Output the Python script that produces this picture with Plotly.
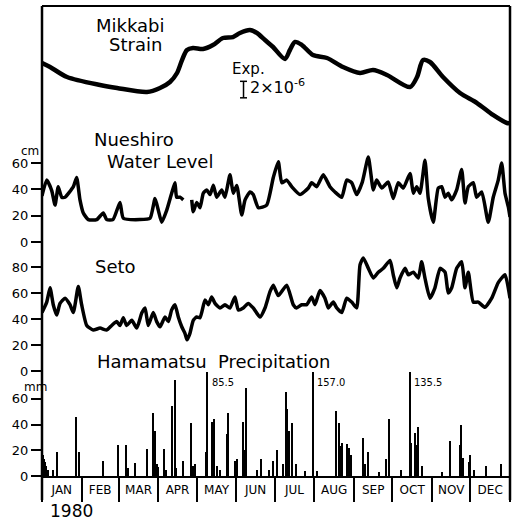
import plotly.graph_objects as go

# ---------------- data ----------------
months = ["JAN", "FEB", "MAR", "APR", "MAY", "JUN", "JUL", "AUG", "SEP", "OCT", "NOV", "DEC"]
month_lengths = [31, 29, 31, 30, 31, 30, 31, 31, 30, 31, 30, 31]  # 1980 (leap year)

# Mikkabi strain (relative, units of 1e-6), day of year
strain_day = [0, 6.3, 19.6, 45.4, 58.7, 82.1, 92.3, 100.1, 105.6, 109.5, 113.4, 118.1, 125.9,
              133.7, 141.5, 149.3, 154.8, 162.6, 168.1, 174.4, 180.7, 190.0, 193.9, 197.9,
              203.3, 211.9, 222.9, 235.4, 248.7, 258.9, 269.8, 287.8, 293.3, 298.0, 303.4,
              313.6, 326.9, 340.2, 352.7, 363.6, 366]
strain_val = [8.12, 7.64, 6.42, 5.45, 5.09, 4.61, 5.09, 5.82, 6.91, 8.48, 9.70, 9.94, 9.82,
              10.30, 11.15, 11.27, 11.76, 12.12, 11.76, 10.91, 10.06, 8.61, 9.70, 10.67,
              10.30, 9.09, 8.73, 7.64, 6.91, 7.27, 6.67, 5.21, 6.42, 8.48, 8.24,
              6.42, 4.48, 3.27, 1.82, 0.85, 0.85]

# Nueshiro water level (cm); None = gap in record
water_day = [0, 3.7, 7.6, 10.2, 12.7, 15.4, 18.0, 24.5, 27.1, 29.7, 32.3, 36.2, 42.8, 47.9,
             50.6, 55.5, 61.0, 63.6, 76.6, 84.5, 88.4, 91.0, 93.6, 97.5, 101.4, 104.0, 105.3,
             107.9, 110.5, 113.5, 117.1, 118.3, 121.0, 123.6, 126.1, 128.8, 131.4, 134.0,
             136.6, 140.5, 143.1, 147.0, 149.6, 152.3, 156.2, 158.8, 162.7, 165.2, 169.2,
             175.7, 180.9, 184.8, 187.5, 191.4, 195.3, 201.8, 208.3, 210.9, 214.8, 220.0,
             225.2, 229.1, 234.4, 238.3, 242.2, 246.1, 250.5, 255.2, 259.1, 261.7, 265.7,
             270.8, 274.7, 278.6, 282.6, 287.8, 290.4, 293.0, 295.6, 299.5, 302.1, 306.0,
             309.9, 312.6, 315.2, 317.7, 320.4, 324.3, 328.2, 330.8, 333.4, 337.3, 339.9,
             343.9, 349.0, 352.9, 356.8, 359.5, 362.1, 364.7, 366]
water_cm = [35, 47, 39, 28, 42, 34, 34, 42, 49, 32, 22, 17, 17, 22,
            17, 17, 30, 18, 17, 18, 33, 24, 15, 24, 37, 45, 34,
            34, 32, None, 32, 23, 30, 26, 37, 39.5, 36, 43,
            34, 39.5, 34, 51, 37, 43, 20.5, 32, 38, 36, 26,
            28, 49, 61, 45, 47, 42, 36, 41, 45, 42, 51,
            42, 38, 34, 47, 45, 36, 45.5, 64.5, 39.5, 47, 41,
            45.5, 33, 45, 41, 52, 37, 42, 37, 62, 33, 15,
            41, 42, 34, 37, 32, 39.5, 55, 29.6, 42, 45, 34,
            38, 15, 34, 47, 60, 37, 26.6, 19]

# Seto water level (cm)
seto_day = [0, 3.7, 6.3, 8.8, 11.5, 14.1, 18.0, 21.9, 24.5, 28.4, 31.0, 35.0, 40.1, 45.4,
            50.6, 54.5, 58.4, 61.0, 63.6, 66.2, 70.2, 74.1, 78.0, 80.6, 83.1, 87.0, 89.7,
            92.3, 96.2, 98.8, 101.4, 104.0, 106.6, 109.3, 111.8, 113.4, 115.7, 118.3, 121.0,
            123.6, 127.5, 130.1, 132.7, 135.3, 139.2, 143.1, 147.0, 150.9, 153.5, 157.4,
            161.3, 165.2, 170.5, 174.4, 178.3, 180.9, 184.8, 191.4, 196.5, 199.1, 203.1,
            207.0, 210.9, 213.5, 217.4, 221.3, 223.9, 227.8, 230.5, 234.4, 238.3, 242.2,
            246.1, 248.7, 251.3, 255.2, 259.1, 263.0, 266.9, 272.2, 274.7, 277.4, 280.0,
            283.9, 286.5, 290.4, 294.3, 296.9, 299.5, 303.4, 307.3, 311.3, 315.2, 317.7,
            320.4, 324.3, 328.2, 330.8, 333.4, 337.3, 341.2, 346.4, 351.7, 356.8, 362.1, 366]
seto_cm = [45, 53, 64, 51, 43, 52, 56, 51, 45, 65, 51, 35, 31.5, 33,
           31.5, 35, 38, 35, 41, 35, 39, 33, 44.6, 48.5, 35, 45, 38,
           34, 41.5, 38, 47, 51, 41.5, 34, 29, 24, 29, 39, 41.5,
           41, 54.6, 51, 57, 52, 48.5, 51, 48.5, 57, 47, 48.5,
           52, 48.5, 41.5, 48.5, 61, 66, 58, 66, 51, 48.5, 51,
           51, 57, 51, 62, 56, 48.5, 53, 48.5, 45, 56, 53,
           48.5, 81.5, 87, 79, 71.5, 76, 79, 85, 74, 64, 71.5,
           79, 74, 76, 71.5, 84, 71.5, 56, 64, 79, 76, 60,
           64, 79, 84, 64, 76, 53, 53, 49, 56, 68, 74, 56]

# Hamamatsu daily precipitation (mm)
rain_day = [0.5, 1.5, 2.5, 3.5, 4.5, 9, 11.5, 27, 29, 48, 59.5, 66, 67.5, 73, 82, 87, 88.5, 90,
            91, 95.5, 97, 102, 104, 105, 110.5, 117, 118, 120, 128, 129.5, 132.7, 134.5, 137,
            139.5, 144.5, 145.7, 151, 152.5, 157.5, 159, 160, 168, 171, 178, 181, 183.5,
            188.7, 190.6, 191.6, 193, 195.5, 199, 206, 211.7, 215, 230, 232.3, 233.5, 235,
            238.3, 240.5, 242, 250.8, 252.5, 254.7, 264, 269.5, 271.4, 281, 287.8, 289,
            291.7, 293, 294.3, 297, 313, 319, 326.9, 328, 329, 334, 334.8, 338, 347.7, 358.7]
rain_mm = [16, 13, 11, 8, 5, 5, 19, 46, 19, 12, 24, 24.5, 6, 10, 21, 49, 35, 9,
           7, 21, 5, 54.5, 75, 6, 11.5, 41, 8, 9, 19, 85.5, 42, 44.5, 7.5,
           5, 33, 49, 11.5, 13, 42, 20, 68.7, 5, 13, 5, 11.5, 20,
           9, 65, 52, 35, 41.5, 9, 4, 157.0, 4, 50.5, 41.5, 23, 26,
           25, 21.5, 16, 29.5, 9, 19, 3, 13, 44.6, 4.5, 135.5, 25.3,
           33.7, 24, 38, 7.5, 3, 27, 24, 39.4, 14, 11, 16.5, 5, 7.5, 9]
rain_clip_mm = 80          # bars taller than this are cut and labelled
scale_bar_ustrain = 2      # "2 x 10^-6" scale bar

# ---------------- layout helpers ----------------
W, H = 519, 521
ML, MR, MT, MB = 42, 9, 6, 45
PW, PH = W - ML - MR, H - MT - MB


def px(xp):
    return (xp - ML) / PW


def py(yp):
    return (H - MB - yp) / PH


FONT = "DejaVu Sans"
BLACK = "#000000"

month_starts = [0]
for n in month_lengths:
    month_starts.append(month_starts[-1] + n)
month_mids = [(month_starts[i] + month_starts[i + 1]) / 2 for i in range(12)]

fig = go.Figure()

fig.add_trace(go.Scatter(x=strain_day, y=strain_val, mode="lines", yaxis="y",
                         line=dict(color=BLACK, width=4.5, shape="spline", smoothing=0.8),
                         showlegend=False, hoverinfo="skip"))
fig.add_trace(go.Scatter(x=water_day, y=water_cm, mode="lines", yaxis="y2",
                         line=dict(color=BLACK, width=3.5, shape="spline", smoothing=0.5),
                         connectgaps=False, showlegend=False, hoverinfo="skip"))
fig.add_trace(go.Scatter(x=seto_day, y=seto_cm, mode="lines", yaxis="y3",
                         line=dict(color=BLACK, width=3.5, shape="spline", smoothing=0.5),
                         showlegend=False, hoverinfo="skip"))
fig.add_trace(go.Bar(x=rain_day, y=rain_mm, yaxis="y4", width=1.0,
                     marker=dict(color=BLACK, line=dict(width=0)),
                     showlegend=False, hoverinfo="skip"))

# scale bar for strain
sb_day = 157.6
sb_low = 3.9
fig.add_trace(go.Scatter(x=[sb_day, sb_day], y=[sb_low, sb_low + scale_bar_ustrain], yaxis="y",
                         mode="lines+markers",
                         line=dict(color=BLACK, width=1.5),
                         marker=dict(symbol="line-ew", size=5, line=dict(color=BLACK, width=1.5)),
                         showlegend=False, hoverinfo="skip"))

tick_font = dict(family=FONT, size=13, color=BLACK)
common_y = dict(showgrid=False, zeroline=False, showline=False, ticks="outside",
                ticklen=10, tickwidth=2, tickcolor=BLACK, tickfont=tick_font, anchor="x",
                fixedrange=True)

fig.update_layout(
    width=W, height=H,
    margin=dict(l=ML, r=MR, t=MT, b=MB, pad=0),
    paper_bgcolor="white", plot_bgcolor="white",
    bargap=0,
    xaxis=dict(range=[0, 366], domain=[0, 1], anchor="y4", showgrid=False, zeroline=False,
               showline=True, linecolor=BLACK, linewidth=2,
               tickmode="array", tickvals=month_mids, ticktext=months, ticks="",
               ticklabelstandoff=2,
               tickfont=dict(family=FONT, size=12, color=BLACK),
               minor=dict(tickmode="array", tickvals=month_starts, ticks="outside",
                          ticklen=24, tickwidth=2, tickcolor=BLACK, showgrid=False)),
    yaxis=dict(domain=[py(140), 1], range=[(130 - 140) / 8.25, (130 - 6) / 8.25],
               visible=False, anchor="x", fixedrange=True),
    yaxis2=dict(domain=[py(242 + 0), py(140)], range=[0, 102 / 1.317],
                tickvals=[0, 20, 40, 60], **common_y),
    yaxis3=dict(domain=[py(371), py(250)], range=[0, 121 / 1.3],
                tickvals=[0, 20, 40, 60, 80], **common_y),
    yaxis4=dict(domain=[0, py(372)], range=[0, 104 / 1.285],
                tickvals=[0, 20, 40, 60], **common_y),
)

# frame
frame_bottom = py(500)
line = dict(color=BLACK, width=2)
fig.add_shape(type="line", xref="paper", yref="paper", x0=0, x1=1, y0=1, y1=1, line=line)
fig.add_shape(type="line", xref="paper", yref="paper", x0=0, x1=0, y0=1, y1=frame_bottom,
              line=dict(color=BLACK, width=2.5))
fig.add_shape(type="line", xref="paper", yref="paper", x0=1, x1=1, y0=1, y1=frame_bottom,
              line=dict(color=BLACK, width=2.5))


def label(text, xp, yp, size, anchor="center"):
    fig.add_annotation(text=text, xref="paper", yref="paper", x=px(xp), y=py(yp),
                       xanchor=anchor, yanchor="middle", showarrow=False,
                       font=dict(family=FONT, size=size, color=BLACK))


label("Mikkabi", 130, 25, 18)
label("Strain", 135, 45, 18)
label("Exp.", 230, 69, 15, "left")
label("2×10<sup>-6</sup>", 248, 86, 16, "left")
label("Nueshiro", 134, 139, 18)
label("Water Level", 160, 161, 18)
label("Seto", 115, 266, 18)
label("Hamamatsu  Precipitation", 214, 361, 18)
label("cm", 30, 151, 12)
label("mm", 35, 387, 12)
label("1980", 71, 511, 17)

# labels for clipped bars
for d, v in zip(rain_day, rain_mm):
    if v > rain_clip_mm:
        fig.add_annotation(text=f"{v:.1f}", x=d + 1.5, y=73, xref="x", yref="y4",
                           xanchor="left", yanchor="middle", showarrow=False,
                           font=dict(family="DejaVu Sans Condensed, DejaVu Sans", size=11,
                                     color=BLACK))

fig.write_html("out.html")
